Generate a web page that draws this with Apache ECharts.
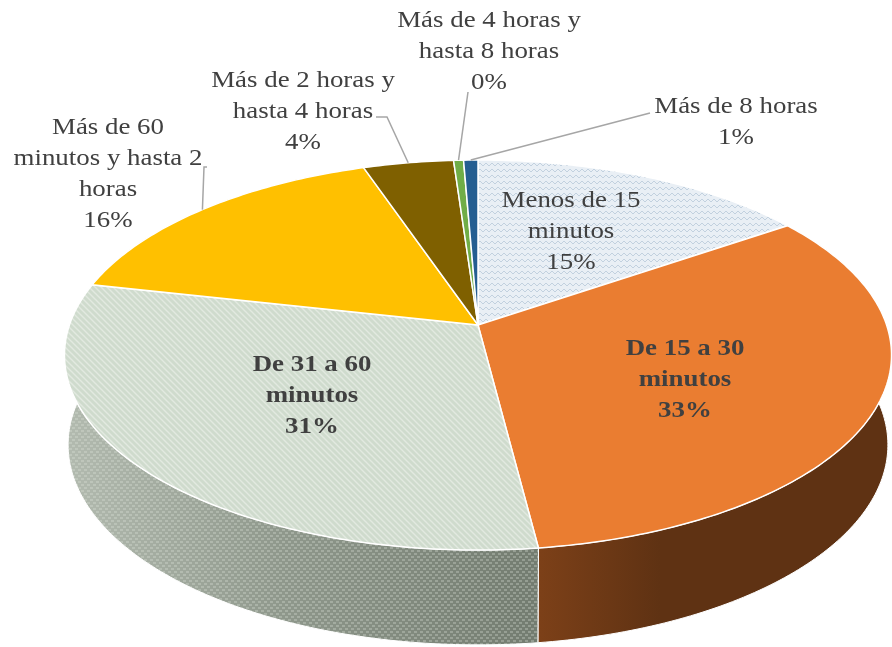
<!DOCTYPE html>
<html>
<head>
<meta charset="utf-8">
<title>Tiempo</title>
<style>
  html, body { margin: 0; background: #fff; }
  #main { width: 892px; height: 647px; filter: blur(0.7px); }
</style>
<script src="https://cdn.jsdelivr.net/npm/echarts@6/dist/echarts.min.js"></script>
</head>
<body>
<div id="main"></div>
<script>
// data
var categories = [
  'Menos de 15\nminutos',
  'De 15 a 30\nminutos',
  'De 31 a 60\nminutos',
  'Más de 60\nminutos y hasta 2\nhoras',
  'Más de 2 horas y\nhasta 4 horas',
  'Más de 4 horas y\nhasta 8 horas',
  'Más de 8 horas'
]
var values = [15.4, 32.6, 30.5, 16.3, 4.1, 0.45, 0.65]
var total = values.reduce(function(a, b) { return a + b }, 0)

// label layout, one per slice: centre x, centre y of the text block
var labelX = [571, 685, 312, 108, 303, 489, 736]
var labelY = [232, 380, 396, 174, 112, 52, 122]
var labelBold = [false, true, true, false, false, false, false]
// where a leader leaves the label, null when the label sits on its slice
var leaderFrom = [null, null, null, [[207, 167], [204, 167]], [[376, 117], [387, 117]], [[468, 92]], [[650, 113]]]

// shape of the pie in perspective
var apex = { x: 478, y: 325, a: 408.6, b: 190.4 }
var base = { x: 478, y: 414, a: 405, b: 195.3 }
var tilt = -0.154

function tile(w, h, draw) {
  var c = document.createElement('canvas')
  c.width = w
  c.height = h
  draw(c.getContext('2d'), w, h)
  return { image: c, repeat: 'repeat' }
}

var zigzag = tile(6, 6, function(g, w, h) {
  g.fillStyle = '#e9eff5'
  g.fillRect(0, 0, w, h)
  g.strokeStyle = '#c2d1df'
  g.lineWidth = 1
  g.beginPath()
  g.moveTo(0, 1); g.lineTo(3, 4); g.lineTo(6, 1)
  g.stroke()
})
var stripes = tile(6, 6, function(g, w, h) {
  g.fillStyle = '#cfdbcd'
  g.fillRect(0, 0, w, h)
  g.strokeStyle = '#e2e9e0'
  g.lineWidth = 1.4
  g.beginPath()
  g.moveTo(-1, -1); g.lineTo(7, 7)
  g.moveTo(-4, 2); g.lineTo(2, 8)
  g.moveTo(2, -4); g.lineTo(8, 2)
  g.stroke()
})
var wallDots = tile(892, 6, function(g, w, h) {
  var grad = g.createLinearGradient(70, 0, 540, 0)
  grad.addColorStop(0, '#b2baaf')
  grad.addColorStop(0.45, '#8f988c')
  grad.addColorStop(1, '#737c70')
  g.fillStyle = grad
  g.fillRect(0, 0, w, h)
  g.fillStyle = 'rgba(225,232,222,0.3)'
  for (var x = 0; x < w; x += 6) {
    g.fillRect(x, 1, 3, 2)
    g.fillRect(x + 3, 4, 3, 2)
  }
})

var faceFill = [zigzag, '#ea7d31', stripes, '#ffc000', '#7f6000', '#70ad47', '#255e91']
var wallFill = [
  '#b9c6d2',
  { type: 'linear', x: 540, y: 0, x2: 660, y2: 0, global: true,
    colorStops: [{ offset: 0, color: '#7c4018' }, { offset: 1, color: '#5f3213' }] },
  wallDots,
  '#997300', '#4c3a00', '#436a2a', '#163857'
]

function rim(disc, pct) {
  var t = pct / total * 2 * Math.PI
  var w = 1 - tilt * Math.cos(t)
  return [disc.x + disc.a * Math.sin(t) / w, disc.y - disc.b * Math.cos(t) / w]
}

function startOf(i) {
  var s = 0
  for (var k = 0; k < i; k++) s += values[k]
  return s
}

function arc(disc, from, to) {
  var pts = []
  var n = Math.max(2, Math.ceil((to - from) * 4))
  for (var k = 0; k <= n; k++) pts.push(rim(disc, from + (to - from) * k / n))
  return pts
}

function renderWall(params, api) {
  var i = params.dataIndex
  var s = startOf(i)
  var e = s + api.value(0)
  return {
    type: 'polygon',
    shape: { points: arc(apex, s, e).concat(arc(base, s, e).reverse()) },
    style: { fill: wallFill[i], stroke: '#fff', lineWidth: 1 }
  }
}

function renderFace(params, api) {
  var i = params.dataIndex
  var s = startOf(i)
  var e = s + api.value(0)
  return {
    type: 'polygon',
    shape: { points: [[apex.x, apex.y]].concat(arc(apex, s, e)) },
    style: { fill: faceFill[i], stroke: '#fff', lineWidth: 1.5 }
  }
}

function renderLabel(params, api) {
  var i = params.dataIndex
  var pct = Math.round(api.value(0) / total * 100) + '%'
  var children = []
  if (leaderFrom[i]) {
    children.push({
      type: 'polyline',
      shape: { points: leaderFrom[i].concat([rim(apex, startOf(i) + api.value(0) / 2)]) },
      style: { fill: 'none', stroke: '#a6a6a6', lineWidth: 1.5 }
    })
  }
  children.push({
    type: 'text',
    x: labelX[i],
    y: labelY[i],
    scaleX: 1.12,
    style: {
      text: categories[i] + '\n' + pct,
      fill: '#404040',
      font: (labelBold[i] ? 'bold ' : '') + '24px "Liberation Serif"',
      lineHeight: 31,
      align: 'center',
      verticalAlign: 'middle'
    }
  })
  return { type: 'group', children: children }
}

var chart = echarts.init(document.getElementById('main'), null, { renderer: 'canvas' })
chart.setOption({
  animation: false,
  backgroundColor: '#fff',
  series: [
    { type: 'custom', coordinateSystem: 'none', silent: true, z: 1, data: values, renderItem: renderWall },
    { type: 'custom', coordinateSystem: 'none', silent: true, z: 2, data: values, renderItem: renderFace },
    { type: 'custom', coordinateSystem: 'none', silent: true, z: 3, data: values, renderItem: renderLabel }
  ]
})
</script>
</body>
</html>
